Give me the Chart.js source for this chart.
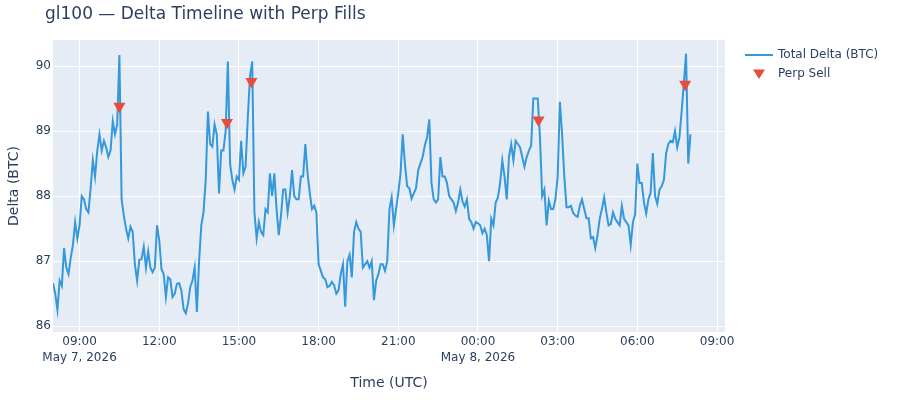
<!DOCTYPE html>
<html>
<head>
<meta charset="utf-8">
<title>gl100 — Delta Timeline with Perp Fills</title>
<script src="https://cdn.jsdelivr.net/npm/chart.js@4.4.0/dist/chart.umd.min.js"></script>
<style>
	body { margin: 0; background: #fff; }
	canvas { display: block; }
</style>
</head>
<body>
<canvas id="graficoDelta" width="900" height="400"></canvas>
<script>
// amostras de 5 em 5 minutos, a partir de 08:00 UTC de 7 de maio
var inicioHoras = 8
var passoMinutos = 5
var deltaTotal = [
	86.66, 86.5, 86.25, 86.7, 86.62, 87.2, 86.9, 86.8, 87.05, 87.25,
	87.6, 87.35, 87.55, 88.0, 87.95, 87.8, 87.75, 88.12, 88.55, 88.3,
	88.7, 88.95, 88.7, 88.85, 88.75, 88.6, 88.7, 89.15, 88.95, 89.1,
	90.17, 87.95, 87.7, 87.5, 87.35,
	87.53, 87.45, 86.95, 86.7, 87.02, 87.03, 87.22, 86.9, 87.15, 86.9,
	86.83, 86.9, 87.55, 87.32, 86.88, 86.8, 86.45, 86.75, 86.72, 86.45,
	86.5, 86.65, 86.66, 86.55, 86.26, 86.2, 86.35, 86.6, 86.7, 86.9,
	86.22, 87.0, 87.55, 87.75, 88.25, 89.3,
	88.8, 88.76, 89.1, 88.95, 88.04, 88.7, 88.7, 89.0, 90.07, 88.5,
	88.25, 88.1, 88.3, 88.25, 88.85, 88.35, 88.45, 89.2, 89.84, 90.07,
	87.75, 87.35, 87.6, 87.45, 87.4, 87.8, 87.75, 88.35, 88.0, 88.35,
	87.8, 87.4, 87.7, 88.1, 88.1, 87.75, 88.0,
	88.4, 88.0, 87.95, 87.95, 88.3, 88.3, 88.8, 88.35, 88.05, 87.8,
	87.85, 87.75, 86.95, 86.85, 86.75, 86.72, 86.6, 86.62, 86.68, 86.63,
	86.5, 86.55, 86.8, 86.95, 86.3, 87.0, 87.1, 86.75, 87.45, 87.6,
	87.5, 87.45, 86.9, 86.95, 87.0, 86.9,
	87.0, 86.4, 86.7, 86.8, 86.95, 86.95, 86.85, 87.0, 87.8, 87.98,
	87.55, 87.8, 88.05, 88.35, 88.95, 88.5, 88.15, 88.12, 87.96, 88.04,
	88.12, 88.4, 88.5, 88.6, 88.78, 88.9, 89.18, 88.2, 87.95, 87.9,
	87.95, 88.6, 88.3, 88.3, 88.2, 88.0,
	87.95, 87.9, 87.77, 87.9, 88.1, 87.92, 87.84, 87.95, 87.65, 87.6,
	87.5, 87.6, 87.58, 87.55, 87.43, 87.5, 87.4, 87.0, 87.65, 87.55,
	87.9, 87.98, 88.2, 88.55, 88.3, 87.95, 88.6, 88.8, 88.55, 88.85,
	88.8, 88.75, 88.6, 88.45, 88.6, 88.7,
	88.77, 89.5, 89.5, 89.5, 88.9, 88.0, 88.1, 87.55, 87.93, 87.8,
	87.8, 87.95, 88.3, 89.45, 88.95, 88.3, 87.83, 87.83, 87.85, 87.74,
	87.7, 87.68, 87.85, 87.95, 87.8, 87.66, 87.66, 87.35, 87.37, 87.2,
	87.4, 87.65, 87.8, 87.98, 87.75, 87.55,
	87.57, 87.75, 87.65, 87.6, 87.55, 87.85, 87.65, 87.6, 87.55, 87.25,
	87.6, 87.72, 88.5, 88.2, 88.2, 87.9, 87.73, 87.95, 88.05, 88.66,
	88.0, 87.88, 88.1, 88.15, 88.25, 88.66, 88.8, 88.85, 88.83, 89.0,
	88.75, 88.9, 89.3, 89.73, 90.19, 88.5, 88.95
]

// fills de perp (horas desde 00:00 de 7 de maio)
var fillHoras = [10.5, 14.55, 15.47, 26.28, 31.8]
var fillDelta = [89.38, 89.13, 89.76, 89.17, 89.72]

var ticksHoras = [9, 12, 15, 18, 21, 24, 27, 30, 33]
var ticksDelta = [86, 87, 88, 89, 90]
var diasHoras = [9, 24]
var diasNomes = ["May 7, 2026", "May 8, 2026"]

var corTexto = "#2a3f5f"
var corLinha = "#3498db"
var corFill = "#e74c3c"

Chart.defaults.font.family = "'DejaVu Sans', sans-serif"
Chart.defaults.color = corTexto

function labelHora(value) {
	var h = value % 24
	var txt = (h < 10 ? "0" : "") + h + ":00"
	var idx = diasHoras.indexOf(value)
	if (idx !== -1) return [txt, diasNomes[idx]]
	return txt
}

function desenhaTriangulo(ctx, x, y, r) {
	ctx.beginPath()
	ctx.moveTo(x - r, y - r * 0.75)
	ctx.lineTo(x + r, y - r * 0.75)
	ctx.lineTo(x, y + r * 0.85)
	ctx.closePath()
	ctx.fill()
}

var fundoPlot = {
	id: "fundoPlot",
	beforeDraw: function (chart) {
		var a = chart.chartArea
		var ctx = chart.ctx
		ctx.save()
		ctx.fillStyle = "#E5ECF6"
		ctx.fillRect(a.left, a.top, a.right - a.left, a.bottom - a.top)
		ctx.restore()
	}
}

var tituloLegenda = {
	id: "tituloLegenda",
	afterDraw: function (chart) {
		var ctx = chart.ctx
		ctx.save()
		ctx.fillStyle = corTexto
		ctx.textBaseline = "middle"
		ctx.font = "17px 'DejaVu Sans', sans-serif"
		ctx.fillText("gl100 — Delta Timeline with Perp Fills", 45, 15)

		ctx.font = "12px 'DejaVu Sans', sans-serif"
		ctx.strokeStyle = corLinha
		ctx.lineWidth = 2
		ctx.beginPath()
		ctx.moveTo(745, 55)
		ctx.lineTo(773, 55)
		ctx.stroke()
		ctx.fillText("Total Delta (BTC)", 778, 55)

		ctx.fillStyle = corFill
		desenhaTriangulo(ctx, 759, 74, 6)
		ctx.fillStyle = corTexto
		ctx.fillText("Perp Sell", 778, 74)
		ctx.restore()
	}
}

var pontosDelta = deltaTotal.map(function (value, index) {
	return { x: inicioHoras + index * passoMinutos / 60, y: value }
})
var pontosFill = fillHoras.map(function (value, index) {
	return { x: value, y: fillDelta[index] }
})

var configChart = {
	type: "line",
	data: {
		datasets: [{
			label: "Perp Sell",
			data: pontosFill,
			showLine: false,
			pointStyle: "triangle",
			rotation: 180,
			pointRadius: 7,
			pointBackgroundColor: corFill,
			pointBorderColor: corFill,
			pointBorderWidth: 0,
			order: 0,
		}, {
			label: "Total Delta (BTC)",
			data: pontosDelta,
			borderColor: corLinha,
			borderWidth: 2,
			pointRadius: 0,
			tension: 0,
			fill: false,
			order: 1,
		}]
	},
	options: {
		responsive: false,
		animation: false,
		layout: {
			padding: { left: 0, right: 175, top: 40, bottom: 0 }
		},
		plugins: {
			legend: { display: false },
			title: { display: false },
			tooltip: { enabled: false },
		},
		scales: {
			x: {
				type: "linear",
				min: 8,
				max: 33.3,
				afterBuildTicks: function (scale) {
					scale.ticks = ticksHoras.map(function (v) { return { value: v } })
				},
				afterFit: function (scale) { scale.height = 68 },
				grid: { color: "#ffffff", lineWidth: 1, drawTicks: false },
				border: { display: false },
				ticks: {
					callback: labelHora,
					maxRotation: 0,
					autoSkip: false,
					padding: 2,
					font: { size: 12, lineHeight: 1.3 },
				},
				title: {
					display: true,
					text: "Time (UTC)",
					font: { size: 14 },
					padding: { top: 0, bottom: 8 },
				},
			},
			y: {
				min: 85.91,
				max: 90.4,
				afterBuildTicks: function (scale) {
					scale.ticks = ticksDelta.map(function (v) { return { value: v } })
				},
				afterFit: function (scale) { scale.width = 53 },
				grid: { color: "#ffffff", lineWidth: 1, drawTicks: false },
				border: { display: false },
				ticks: {
					padding: 2,
					font: { size: 12 },
				},
				title: {
					display: true,
					text: "Delta (BTC)",
					font: { size: 14 },
					padding: { top: 6, bottom: 0 },
				},
			},
		},
	},
	plugins: [fundoPlot, tituloLegenda]
}

var ctxDelta = document.getElementById("graficoDelta").getContext("2d")
window.graficoDelta = new Chart(ctxDelta, configChart)
</script>
</body>
</html>
